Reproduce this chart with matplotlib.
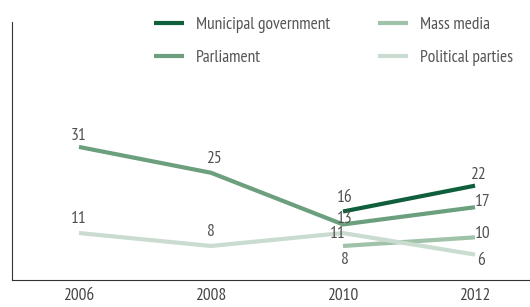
import matplotlib
matplotlib.use("Agg")
import matplotlib.pyplot as plt

plt.rcParams["font.family"] = ["PT Sans Narrow", "DejaVu Sans"]

years = [2006, 2008, 2010, 2012]
municipal = [None, None, 16, 22]
parliament = [31, 25, 13, 17]
mass_media = [None, None, 8, 10]
political_parties = [11, 8, 11, 6]

series = [
    ("Municipal government", municipal, "#0f5e3c"),
    ("Parliament", parliament, "#6b9f7d"),
    ("Mass media", mass_media, "#9fc2a8"),
    ("Political parties", political_parties, "#cadccf"),
]

# where each value label sits relative to its point, in pixels (dx, dy)
offsets = {
    "Municipal government": [None, None, (2, 14), (3, 11)],
    "Parliament": [(0, 11), (3, 14), (2, 5), (8, 5)],
    "Mass media": [None, None, (2, -14), (8, 3)],
    "Political parties": [(0, 14), (0, 14), (-5, -1), (6, -6)],
}

fig = plt.figure(figsize=(5.30, 3.07), dpi=100)
ax = fig.add_axes([0.0226, 0.0866, 0.9774, 0.8416])

handles = []
for name, vals, color in series:
    x = [y for y, v in zip(years, vals) if v is not None]
    y = [v for v in vals if v is not None]
    (h,) = ax.plot(x, y, color=color, lw=3, solid_capstyle="butt", label=name)
    handles.append(h)
    for yr, v, off in zip(years, vals, offsets[name]):
        if v is None:
            continue
        ax.annotate(str(v), (yr, v), xytext=off, textcoords="offset pixels",
                    ha="center", va="center", fontsize=12.5, color="#505050")

ax.set_xlim(2004.985, 2012.833)
ax.set_ylim(0, 60)
ax.set_xticks(years)
ax.set_xticklabels([str(y) for y in years])
ax.set_yticks([])
ax.tick_params(axis="x", length=0, labelsize=12.5, labelcolor="#444444", pad=5.5)
for s in ["top", "right"]:
    ax.spines[s].set_visible(False)
ax.spines["left"].set_color("#333333")
ax.spines["bottom"].set_color("#333333")

leg_kw = dict(frameon=False, fontsize=12.5, handlelength=1.75, handletextpad=0.65,
              labelspacing=1.0, loc="upper left", borderaxespad=0, borderpad=0,
              labelcolor="#555555")
leg1 = fig.legend(handles[:2], [s[0] for s in series[:2]],
                  bbox_to_anchor=(154 / 530, 1 - 16.5 / 307), **leg_kw)
leg2 = fig.legend(handles[2:], [s[0] for s in series[2:]],
                  bbox_to_anchor=(378 / 530, 1 - 16.5 / 307), **leg_kw)

fig.savefig("out.png", dpi=100)
